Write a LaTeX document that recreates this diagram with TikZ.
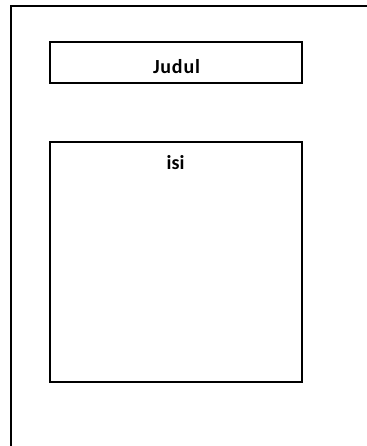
\documentclass[tikz,border=0pt]{standalone}
\usepackage{fontspec}
\setmainfont{Carlito}
\begin{document}
\begin{tikzpicture}[x=1pt,y=-1pt,
  frame/.style={draw=black,line width=2pt},
  boxstyle/.style={draw=black,line width=2pt,inner sep=0pt,outer sep=0pt},
  lbl/.style={font=\fontsize{20}{22}\selectfont\bfseries,inner sep=0pt,anchor=base}]
\useasboundingbox (0,0) rectangle (366,446);
\coordinate (fbl) at (11,447);
\coordinate (ftl) at (11,6);
\coordinate (ftr) at (367,6);
\draw[frame,line cap=rect] (fbl) -- (ftl) -- (ftr);
\node[boxstyle,minimum width=252pt,minimum height=41pt] (judul) at (176,62.5) {};
\node[boxstyle,minimum width=252pt,minimum height=240pt] (isi) at (176,262) {};
\node[lbl] (judultext) at (176.5,74) {\addfontfeature{LetterSpace=4}Judul};
\node[lbl] (isitext) at (175.5,170) {isi};
\end{tikzpicture}
\end{document}
